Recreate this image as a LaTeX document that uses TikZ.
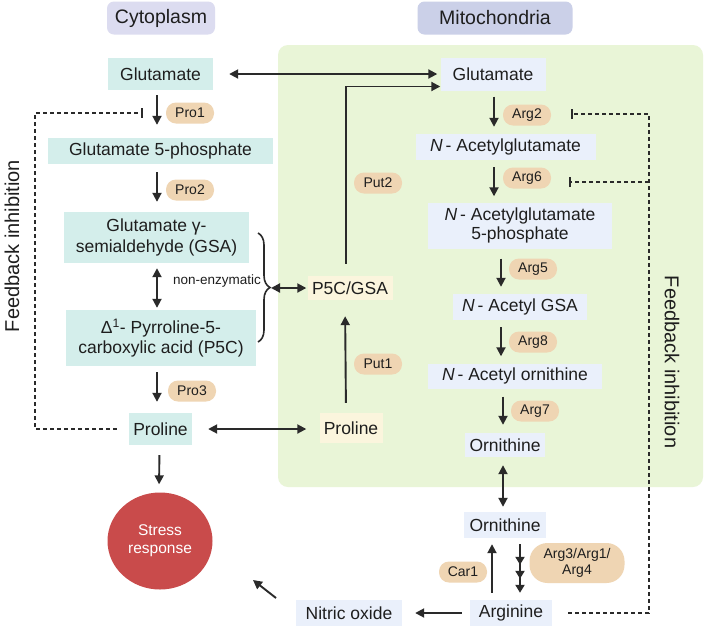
\documentclass[tikz,border=0pt]{standalone}
\usepackage{fontspec}
\setmainfont{Liberation Sans}
\usetikzlibrary{arrows.meta,decorations.pathreplacing,shapes.geometric}
\definecolor{cytobox}{HTML}{D4EEEB}
\definecolor{mitobox}{HTML}{EAF0FB}
\definecolor{yelbox}{HTML}{FBF5DD}
\definecolor{pillc}{HTML}{EFD5B3}
\definecolor{greenbg}{HTML}{E9F5D7}
\definecolor{hdrcyto}{HTML}{DCDCF0}
\definecolor{hdrmito}{HTML}{CBD0E8}
\definecolor{stressc}{HTML}{C94B4B}
\definecolor{arrc}{HTML}{2A2A2A}
\definecolor{txt}{HTML}{1E1E1E}
\begin{document}
\begin{tikzpicture}[x=1pt,y=-1pt,
  box/.style={inner sep=0pt, align=center, font=\fontsize{17.5}{20}\selectfont, text=txt},
  cbox/.style={box, fill=cytobox},
  mbox/.style={box, fill=mitobox},
  ybox/.style={box, fill=yelbox},
  hdr/.style={inner sep=0pt, rounded corners=7pt, font=\fontsize{19.5}{22}\selectfont, text=txt},
  pill/.style={fill=pillc, rounded corners=10pt, minimum width=48pt, minimum height=21pt, inner sep=0pt, font=\fontsize{14}{15.5}\selectfont, text=txt, align=center},
  arr/.style={draw=arrc, line width=1.9pt, -{Triangle[length=9pt,width=9pt]}},
  darr/.style={draw=arrc, line width=1.9pt, {Triangle[length=9pt,width=9pt]}-{Triangle[length=9pt,width=9pt]}},
  tarr/.style={draw=arrc, line width=1.9pt, -{Triangle[length=8pt,width=9pt,sep=6pt]Triangle[length=8pt,width=9pt,sep=6pt]Triangle[length=8pt,width=9pt]}},
  inh/.style={draw=arrc, line width=1.8pt, dash pattern=on 4pt off 3pt, -{Bar[width=10pt,line width=1.8pt]}},
  fbtext/.style={font=\fontsize{20}{22}\selectfont, text=txt},
]
\useasboundingbox (0,0) rectangle (706,630);
\fill[white] (0,0) rectangle (706,630);
% mitochondria region
\fill[greenbg, rounded corners=10pt] (278,45) rectangle (703,487);
% headers
\node[hdr, fill=hdrcyto, minimum width=108pt, minimum height=33pt] (hcyto) at (161,18) {Cytoplasm};
\node[hdr, fill=hdrmito, minimum width=155pt, minimum height=33pt] (hmito) at (495,18) {Mitochondria};
% cytoplasm column
\node[cbox, minimum width=105pt, minimum height=32pt] (glucyto) at (160.5,74) {Glutamate};
\node[pill] (pro1) at (190,113) {Pro1};
\node[cbox, minimum width=225pt, minimum height=26pt] (g5p) at (160.5,151) {Glutamate 5-phosphate};
\node[pill] (pro2) at (190,190) {Pro2};
\node[cbox, minimum width=185pt, minimum height=51pt, font=\fontsize{17.5}{20.5}\selectfont] (gsa) at (156.5,237.5) {Glutamate γ-\\semialdehyde (GSA)};
\node[font=\fontsize{13.5}{15}\selectfont, text=txt, inner sep=0pt] (nonenz) at (217,281) {non-enzymatic};
\node[cbox, minimum width=190pt, minimum height=56pt, font=\fontsize{17.5}{20.5}\selectfont] (p5c) at (161,338) {Δ\textsuperscript{1}- Pyrroline-5-\\carboxylic acid (P5C)};
\node[pill] (pro3) at (192,391) {Pro3};
\node[cbox, minimum width=63pt, minimum height=32pt] (procyto) at (160.5,429) {Proline};
\node[ellipse, fill=stressc, minimum width=105pt, minimum height=97pt, inner sep=0pt, text=white, align=center, font=\fontsize{15.5}{18}\selectfont] (stress) at (160,541) {Stress\\response};
% middle
\node[ybox, minimum width=85pt, minimum height=24pt] (p5cgsa) at (350,288) {P5C/GSA};
\node[ybox, minimum width=63pt, minimum height=30pt] (promito) at (351,428) {Proline};
\node[pill] (put1) at (378,364) {Put1};
\node[pill] (put2) at (378,183) {Put2};
% mitochondria column
\node[mbox, minimum width=105pt, minimum height=33pt] (glumito) at (493,74) {Glutamate};
\node[pill] (arg2) at (527,115) {Arg2};
\node[mbox, minimum width=180pt, minimum height=26pt] (nag) at (505.5,147) {\textit{N}\,- Acetylglutamate};
\node[pill] (arg6) at (527,178) {Arg6};
\node[mbox, minimum width=184pt, minimum height=46pt, font=\fontsize{17.5}{19}\selectfont] (nag5p) at (520,225.5) {\textit{N}\,- Acetylglutamate\\5-phosphate};
\node[pill] (arg5) at (533,269) {Arg5};
\node[mbox, minimum width=134pt, minimum height=26pt] (nagsa) at (520,307) {\textit{N}\,- Acetyl GSA};
\node[pill] (arg8) at (533,342) {Arg8};
\node[mbox, minimum width=174pt, minimum height=25pt] (nao) at (515,376) {\textit{N}\,- Acetyl ornithine};
\node[pill] (arg7) at (535,411) {Arg7};
\node[mbox, minimum width=80pt, minimum height=24pt] (ornmito) at (505,445) {Ornithine};
\node[mbox, minimum width=82pt, minimum height=26pt] (ornout) at (505,525) {Ornithine};
\node[pill] (car1) at (463,572) {Car1};
\node[pill, minimum width=95pt, minimum height=40pt, rounded corners=18pt] (arg314) at (577,563) {Arg3/Arg1/\\Arg4};
\node[mbox, minimum width=82pt, minimum height=26pt] (arginine) at (511,613) {Arginine};
\node[mbox, minimum width=106pt, minimum height=26pt] (nitric) at (349,613) {Nitric oxide};
% feedback labels
\node[fbtext, rotate=90] (fbleft) at (12,246) {Feedback inhibition};
\node[fbtext, rotate=-90] (fbright) at (672,362) {Feedback inhibition};
% helper coordinates
\coordinate (ax) at (157,0);
\coordinate (mx1) at (494,0);
\coordinate (mx2) at (501,0);
\coordinate (mx3) at (503,0);
\coordinate (brtop) at (258,233);
\coordinate (brbot) at (258,342);
\coordinate (brtip) at (271,288);
\coordinate (fbL) at (35,113);
\coordinate (inhP) at (143,113);
\coordinate (fbR) at (649,114);
\coordinate (inhA2) at (571,114);
\coordinate (fbR6) at (649,182);
\coordinate (inhA6) at (569,182);
\coordinate (no1) at (276,598);
\coordinate (no2) at (253,580);
% cytoplasm arrows
\draw[arr, shorten <=5pt, shorten >=13pt] (glucyto.south -| ax) -- (g5p.north -| ax);
\draw[arr, shorten <=8pt, shorten >=10pt] (g5p.south -| ax) -- (gsa.north -| ax);
\draw[darr, shorten <=5pt, shorten >=2pt] (gsa.south -| ax) -- (p5c.north -| ax);
\draw[arr, shorten <=6pt, shorten >=11pt] (p5c.south -| ax) -- (procyto.north -| ax);
\draw[arr, shorten <=10pt, shorten >=8pt] ([xshift=-1pt]procyto.south) -- ([xshift=-1pt]stress.north);
% brace
\draw[arrc, line width=1.6pt, decorate, decoration={brace, amplitude=12pt}] (brtop) -- (brbot);
\draw[darr, shorten >=1pt] (brtip) -- (p5cgsa.west);
% glutamate exchange
\draw[darr, shorten <=16pt, shorten >=3pt] (glucyto.east) -- (glumito.west);
\draw[arr, shorten <=12pt] ([xshift=-4pt]p5cgsa.north) |- ([yshift=-12.5pt]glumito.west);
\draw[arr, shorten <=10pt, shorten >=16pt] ([xshift=-5pt]promito.north) -- ([xshift=-5pt]p5cgsa.south);
\draw[darr, shorten <=16pt, shorten >=13pt] (procyto.east) -- (procyto.east -| promito.west);
% mitochondria arrows
\draw[arr, shorten <=6pt, shorten >=7pt] (glumito.south -| mx1) -- (nag.north -| mx1);
\draw[arr, shorten <=7pt, shorten >=6pt] (nag.south -| mx1) -- (nag5p.north -| mx1);
\draw[arr, shorten <=10pt, shorten >=7pt] (nag5p.south -| mx2) -- (nagsa.north -| mx2);
\draw[arr, shorten <=7pt, shorten >=7pt] (nagsa.south -| mx2) -- (nao.north -| mx2);
\draw[arr, shorten <=8pt, shorten >=8pt] (nao.south -| mx3) -- (ornmito.north -| mx3);
\draw[darr, shorten <=8pt, shorten >=5pt] (ornmito.south -| mx3) -- (ornout.north -| mx3);
\draw[arr, shorten <=7pt, shorten >=6pt] ([xshift=-13pt]arginine.north -| ornout) -- ([xshift=-13pt]ornout.south);
\draw[tarr, shorten <=6pt, shorten >=7pt] ([xshift=15pt]ornout.south) -- ([xshift=15pt]ornout.south |- arginine.north);
\draw[arr, shorten <=8pt, shorten >=13pt] (arginine.west) -- (nitric.east);
\draw[arr] (no1) -- (no2);
% feedback inhibition
\draw[inh] ([xshift=-12pt]procyto.west) -| (fbL) -- (inhP);
\draw[inh] ([xshift=16pt]arginine.east) -| (fbR) -- (inhA2);
\draw[inh] (fbR6) -- (inhA6);
\end{tikzpicture}
\end{document}
